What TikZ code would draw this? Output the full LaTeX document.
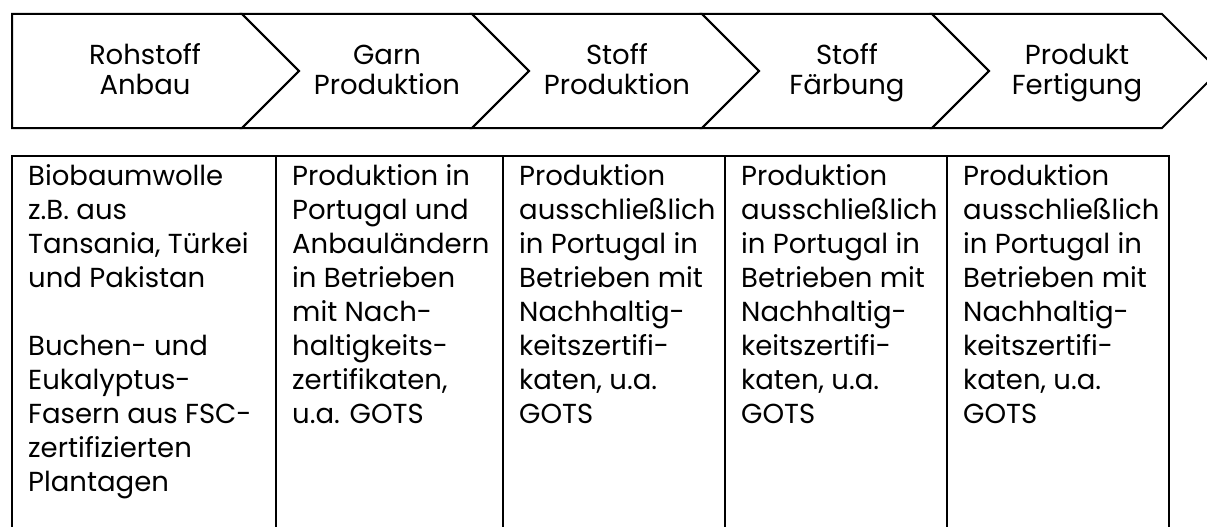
\documentclass[tikz,border=0pt]{standalone}
\usepackage{fontspec}
\setmainfont{Poppins}

\begin{document}
\begin{tikzpicture}[x=1pt,y=-1pt,
	stagetext/.style={align=center,anchor=base,font=\fontsize{27.5}{31}\selectfont,inner sep=0pt},
	celltext/.style={align=left,anchor=north west,font=\fontsize{27.5}{34}\selectfont,inner sep=0pt}]

		\useasboundingbox (0,0) rectangle (1207,527);
		\clip (0,0) rectangle (1207,527);

		% Prozesskette
		\draw [line width=2pt] (12,14) -- (242,14) -- (299,71) -- (242,128) -- (12,128) -- cycle;
		\foreach \i in {0,...,3}{
			\draw [line width=2pt] ({242+230*\i},14) -- ++(230,0) -- ++(57,57) -- ++(-57,57) -- ++(-230,0) -- ++(57,-57) -- cycle;
		}
		\node [stagetext] (anbau) at (145,95) {Rohstoff\\Anbau};
		\node [stagetext] (garn) at (387,95) {Garn\\Produktion};
		\node [stagetext] (stoff) at (617,95) {Stoff\\Produktion};
		\node [stagetext] (faerbung) at (847,95) {Stoff\\Färbung};
		\node [stagetext] (fertigung) at (1077,95) {Produkt\\Fertigung};

		% Tabelle
		\draw [line width=2pt] (12,156) rectangle (1169,560);
		\foreach \x in {275.5,502.7,725.3,947.3}{
			\draw [line width=2pt] (\x,156) -- (\x,560);
		}
		\node [celltext] (anbaucell) at (28,164) {Biobaumwolle\\z.B. aus\\Tansania, Türkei\\und Pakistan\\[34pt]Buchen- und\\Eukalyptus-\\Fasern aus FSC-\\zertifizierten\\Plantagen};
		\node [celltext] (garncell) at (292,164) {Produktion in\\Portugal und\\Anbauländern\\in Betrieben\\mit Nach-\\haltigkeits-\\zertifikaten,\\u.a. GOTS};
		\node [celltext] (stoffcell) at (519,164) {Produktion\\ausschließlich\\in Portugal in\\Betrieben mit\\Nachhaltig-\\keitszertifi-\\katen, u.a.\\GOTS};
		\node [celltext] (faerbungcell) at (741,164) {Produktion\\ausschließlich\\in Portugal in\\Betrieben mit\\Nachhaltig-\\keitszertifi-\\katen, u.a.\\GOTS};
		\node [celltext] (fertigungcell) at (963,164) {Produktion\\ausschließlich\\in Portugal in\\Betrieben mit\\Nachhaltig-\\keitszertifi-\\katen, u.a.\\GOTS};

	\end{tikzpicture}
\end{document}
